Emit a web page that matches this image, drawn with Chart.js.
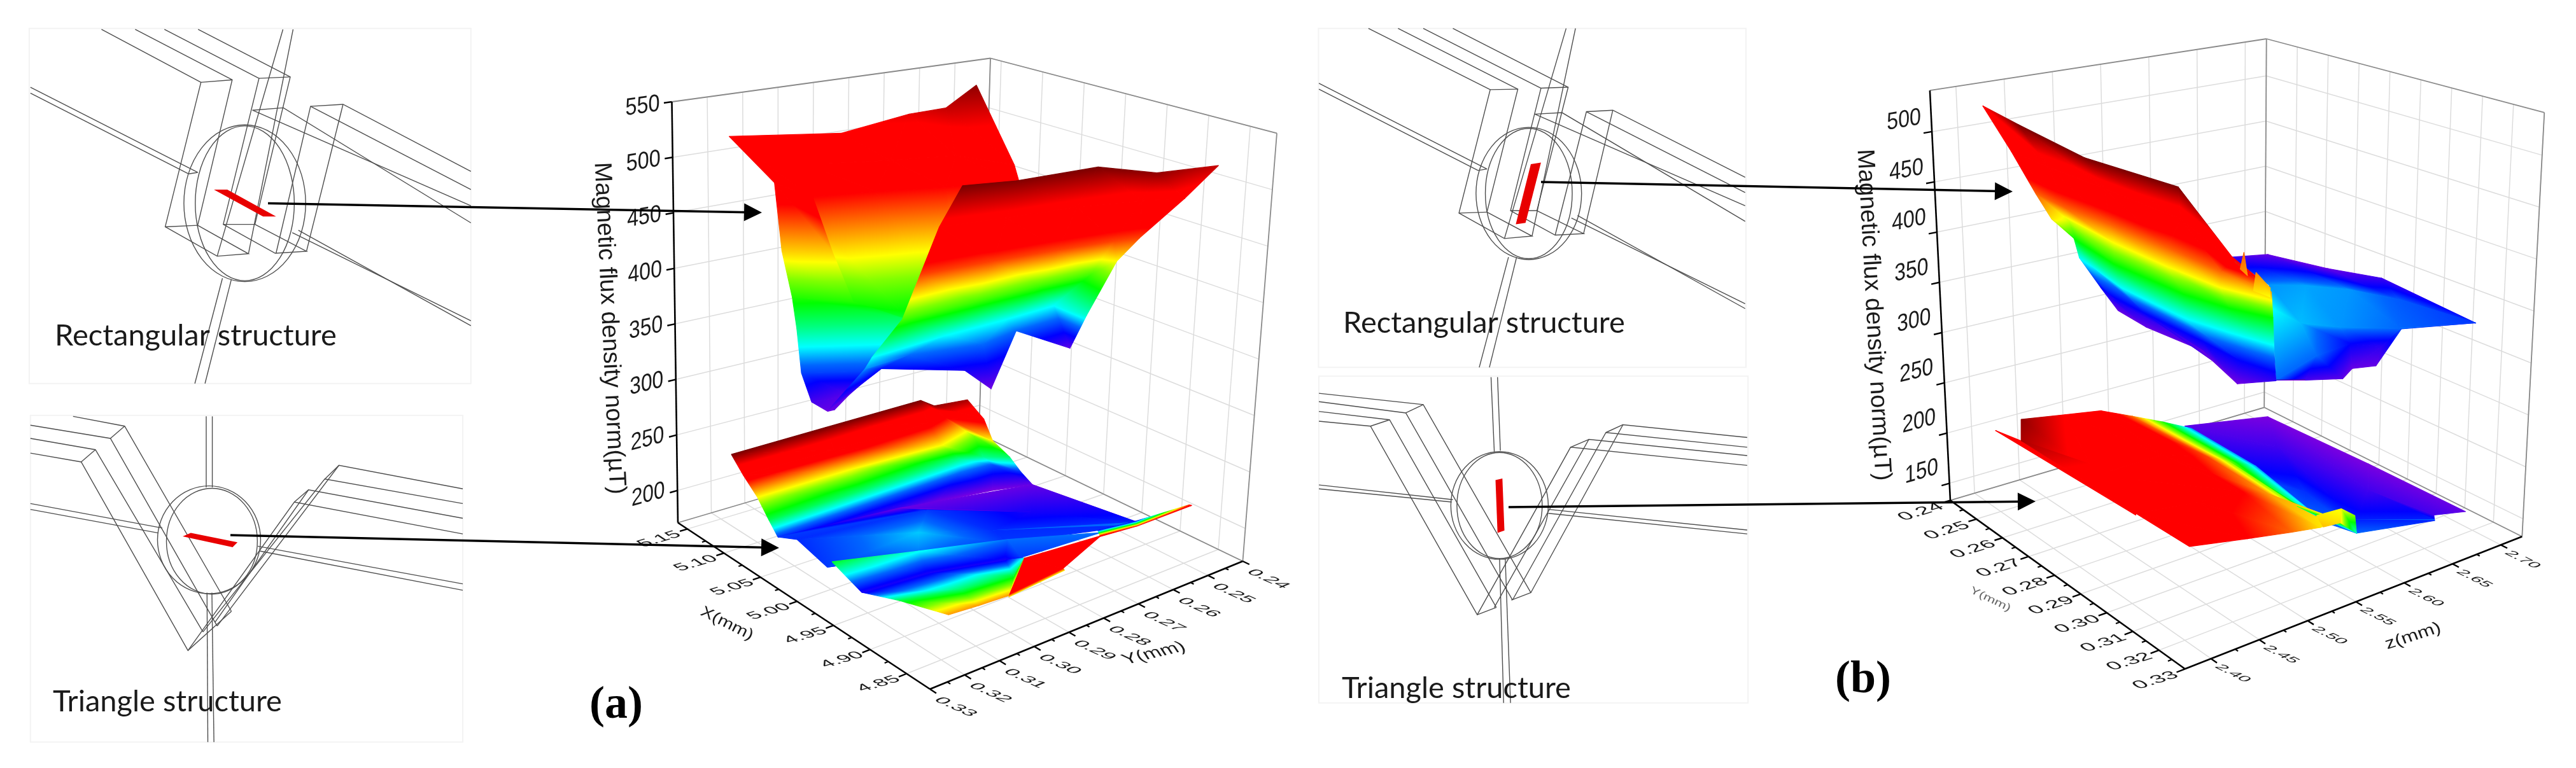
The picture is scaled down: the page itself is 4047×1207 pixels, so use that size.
<!DOCTYPE html>
<html lang="en">
<head>
<meta charset="UTF-8" />
<title>Magnetic flux density</title>
<script src="https://cdn.jsdelivr.net/npm/chart.js"></script>
<style>
  body { margin: 0; background: #fff; }
  canvas { display: block; }
</style>
</head>
<body>
<canvas id="fig" width="4047" height="1207"></canvas>
<script>
// axis ticks
const xTicksA = [5.15, 5.10, 5.05, 5.00, 4.95, 4.90, 4.85];
const xMinorA = [5.125, 5.075, 5.025, 4.975, 4.925, 4.875];
const yTicksA = [0.33, 0.32, 0.31, 0.30, 0.29, 0.28, 0.27, 0.26, 0.25, 0.24];
const yMinorA = [0.325, 0.315, 0.305, 0.295, 0.285, 0.275, 0.265, 0.255, 0.245];
const bTicksA = [200, 250, 300, 350, 400, 450, 500, 550];
const yTicksB = [0.24, 0.25, 0.26, 0.27, 0.28, 0.29, 0.30, 0.31, 0.32, 0.33];
const yMinorB = [0.245, 0.255, 0.265, 0.275, 0.285, 0.295, 0.305, 0.315, 0.325];
const zTicksB = [2.40, 2.45, 2.50, 2.55, 2.60, 2.65, 2.70];
const zMinorB = [2.425, 2.475, 2.525, 2.575, 2.625, 2.675];
const bTicksB = [150, 200, 250, 300, 350, 400, 450, 500];

// panel (a), rectangular structure: X(mm), Y(mm), B(uT)
const aRectBackX = [[5.144,5.139,5.118,5.134],[5.121,5.097,5.080,5.045],[5.100,5.081,5.061,5.041],[5.050,4.998,4.985,4.991],[5.045,5.003,4.985,4.974]];
const aRectBackY = [[.2863,.2683,.2628,.2506],[.3014,.2830,.2684,.2599],[.3100,.2906,.2753,.2593],[.3143,.3019,.2915,.2835],[.3154,.2980,.2913,.2871]];
const aRectBackB = [[505,515,523,535],[490,490,490,485],[470,470,470,470],[400,395,395,395],[375,375,375,375]];

const aRectWallX = [[5.192,5.144],[5.105,5.042],[5.070,5.047],[5.060,5.025],[5.053,5.010],[5.058,5.028],[5.062,5.066],[5.058,5.054]];
const aRectWallY = [[.3074,.2863],[.3140,.3170],[.3196,.3104],[.3188,.3092],[.3190,.2971],[.3165,.3016],[.3126,.3011],[.3088,.3077]];
const aRectWallB = [[500,505],[485,490],[438,438],[400,400],[375,380],[333,333],[303,298],[293,295]];

const aRectFrontX = [[4.873,4.865,4.853,4.824,4.843],[4.892,4.880,4.871,4.861,4.844],[4.910,4.903,4.895,4.886,4.880],[4.958,4.958,4.958,4.955,4.913],[5.003,5.009,5.010,5.013,4.963],[5.012,5.026,5.011,5.020,5.043],[5.051,5.049,5.022,5.019,5.020]];
const aRectFrontY = [[.3129,.2999,.2804,.2708,.2496],[.3148,.2988,.2816,.2660,.2581],[.3158,.2972,.2809,.2674,.2617],[.3100,.2896,.2714,.2576,.2602],[.3084,.2858,.2684,.2544,.2564],[.3084,.2927,.2747,.2633,.2421],[.3101,.2954,.2773,.2702,.2633]];
const aRectFrontB = [[540,538,540,535,523],[503,503,503,500,500],[460,460,460,460,460],[405,405,405,405,430],[358,358,358,358,365],[345,340,340,340,298],[298,323,315,293,340]];

// panel (a), triangle structure
const aTriBackX = [[5.074,5.075,5.076,5.064,5.062],[5.076,5.074,5.077,5.083,5.057],[5.073,5.073,5.068,5.077,5.050],[5.065,5.069,5.074,5.066,5.049],[5.071,5.073,5.075,5.073,5.053],[5.074,5.074,5.072,5.063,5.048]];
const aTriBackY = [[.3333,.3057,.2777,.2764,.2672],[.3294,.3033,.2752,.2685,.2633],[.3259,.2993,.2730,.2614,.2621],[.3243,.2960,.2660,.2610,.2571],[.3203,.2922,.2655,.2564,.2527],[.3141,.2974,.2730,.2585,.2502]];
const aTriBackB = [[270,270,270,268,266],[248,248,246,243,246],[227,227,227,221,227],[209,207,205,205,207],[188,186,192,190,187],[182,174,173,172,174]];

const aTriFlatX = [[5.071,5.079,5.048,4.919],[5.060,5.039,4.993,4.915],[5.005,4.997,4.977,4.912],[5.003,4.973,4.950,4.908]];
const aTriFlatY = [[.3203,.2826,.2502,.2491],[.3170,.2832,.2632,.2499],[.3201,.2952,.2777,.2505],[.3191,.3004,.2796,.2514]];
const aTriFlatB = [[188,174,174,184],[187,188,182,186],[188,196,187,187],[190,192,188,187]];

const aTriFrontX = [[4.972,4.965,4.948,4.908],[4.963,4.957,4.936,4.921],[4.888,4.876,4.860,4.896],[4.802,4.799,4.797,4.863]];
const aTriFrontY = [[.3259,.3022,.2799,.2617],[.3190,.3011,.2831,.2818],[.3243,.3094,.2974,.2863],[.3287,.3207,.3126,.2938]];
const aTriFrontB = [[211,199,192,192],[182,182,182,188],[209,207,211,201],[233,233,233,221]];

const aTriCornerX = [[4.819,4.793],[4.781,4.789],[4.802,4.810]];
const aTriCornerY = [[.3037,.2878],[.3159,.2991],[.3115,.2940]];
const aTriCornerB = [[246,256],[243,243],[229,229]];

const aTriTipX = [[4.921,4.914,4.817],[4.803,4.814,4.799]];
const aTriTipY = [[.2595,.2502,.2572],[.2857,.2725,.2607]];
const aTriTipB = [[187,187,241],[250,241,250]];

// panel (b), rectangular structure: Y(mm), z(mm), B(uT)
const bRectFlatY = [[.2160,.2140,.2291,.2463,.2926],[.2563,.2623,.2692,.2766,.2939],[.2752,.2818,.2867,.2927,.2952],[.3001,.2942,.2826,.2828,.2901],[.2870,.2844,.2861,.2818,.2838]];
const bRectFlatZ = [[2.763,2.810,2.826,2.828,2.780],[2.675,2.695,2.720,2.749,2.775],[2.620,2.630,2.657,2.701,2.771],[2.551,2.610,2.680,2.712,2.710],[2.590,2.628,2.662,2.685,2.704]];
const bRectFlatB = [[257,246,246,257,279],[302,304,302,293,282],[316,307,302,296,285],[296,296,274,262,290],[268,254,248,246,246]];

const bRectSlopeY = [[.2204,.2575,.2851,.3137,.3347,.3285],[.2419,.2557,.2743,.2973,.3271,.3312],[.2433,.2543,.2685,.2881,.3072,.3183],[.2462,.2438,.2637,.2824,.3000,.3122],[.2361,.2376,.2542,.2782,.2908,.3011],[.2272,.2305,.2460,.2689,.2812,.2920],[.2240,.2288,.2418,.2623,.2756,.2858],[.2249,.2362,.2540,.2595,.2722,.2844]];
const bRectSlopeZ = [[2.484,2.413,2.401,2.414,2.409,2.463],[2.449,2.448,2.451,2.462,2.432,2.451],[2.469,2.467,2.472,2.474,2.474,2.493],[2.476,2.502,2.490,2.490,2.494,2.511],[2.529,2.527,2.517,2.520,2.530,2.544],[2.561,2.559,2.548,2.552,2.562,2.572],[2.593,2.592,2.586,2.586,2.584,2.592],[2.609,2.605,2.611,2.604,2.593,2.597]];
const bRectSlopeB = [[486,520,520,520,481,436],[470,470,470,464,464,442],[425,425,425,425,425,414],[402,391,397,397,397,394],[358,358,358,358,358,358],[318,318,316,310,310,310],[274,268,274,274,274,274],[246,246,246,246,243,262]];

const bRectSpikeOneY = [[.3002,.3002],[.3052,.3067]];
const bRectSpikeOneZ = [[2.517,2.517],[2.499,2.502]];
const bRectSpikeOneB = [[425,425],[419,414]];
const bRectSpikeTwoY = [[.3090,.3125],[.3085,.3112]];
const bRectSpikeTwoZ = [[2.504,2.508],[2.503,2.512]];
const bRectSpikeTwoB = [[419,408],[402,397]];

// panel (b), triangle structure
const bTriBackY = [[.2399,.2453,.2788,.3132],[.2451,.2615,.2915,.3111],[.2717,.2870,.3050,.3162],[.2754,.2982,.3123,.3166]];
const bTriBackZ = [[2.634,2.709,2.714,2.713],[2.623,2.670,2.675,2.686],[2.591,2.621,2.622,2.671],[2.580,2.588,2.601,2.670]];
const bTriBackB = [[138,135,135,137],[140,140,140,140],[153,149,148,148],[158,153,153,148]];

const bTriEdgeY = [[.2456,.2528],[.2964,.2958]];
const bTriEdgeZ = [[2.410,2.417],[2.415,2.417]];
const bTriEdgeB = [[203,203],[203,203]];

const bTriFrontY = [[.2524,.2517,.2513,.2519,.2503,.2485],[.2604,.2783,.2772,.2793,.2774,.2725],[.2958,.2993,.2999,.3006,.3044,.3023],[.3151,.3190,.3200,.3191,.3184,.3141]];
const bTriFrontZ = [[2.419,2.468,2.508,2.540,2.578,2.615],[2.396,2.424,2.498,2.540,2.569,2.612],[2.417,2.473,2.517,2.543,2.561,2.588],[2.419,2.468,2.511,2.543,2.566,2.595]];
const bTriFrontB = [[223,214,207,194,175,155],[221,209,207,196,180,155],[203,203,200,191,180,159],[202,200,194,187,185,158]];

const bTriStepY = [[.3139,.3138,.3163],[.3202,.3201,.3160]];
const bTriStepZ = [[2.554,2.580,2.587],[2.543,2.561,2.590]];
const bTriStepB = [[187,185,180],[189,187,162]];

// colour limits of each surface
const rangeRectA = [290, 540], rangeTriA = [172, 270], rangeRectB = [240, 520], rangeTriB = [135, 225];

// box corners on the page, bottom and top ring (left, front, right, back)
const panelA = {
  a: [5.163, 4.818], b: [0.33, 0.24], c: [171, 550],
  A: [1065, 821.5], Bf: [1461, 1083], C: [1952.4, 882], D: [1538, 682],
  At: [1055.5, 160], Bt: [1482, 316.7], Ct: [2006, 209.4], Dt: [1556, 91.5]
};
const panelB = {
  a: [0.24, 0.33], b: [2.373, 2.722], c: [133, 541],
  A: [3064, 786.4], Bf: [3432.7, 1051.3], C: [3962.3, 843.2], D: [3557.2, 640.3],
  At: [3031.9, 142.2], Bt: [3426.8, 298], Ct: [3997.3, 176.9], Dt: [3560.7, 61]
};

const colourStops = [[0,'#7a00e0'],[.12,'#0000ff'],[.2,'#0066ff'],[.27,'#00ffff'],[.42,'#00ff00'],[.5,'#80ff00'],[.56,'#ffff00'],[.64,'#ff8000'],[.72,'#ff0000'],[.88,'#ff0000'],[1,'#7a0000']];

function project(p, a, b, c) {
  const u = (a-p.a[0])/(p.a[1]-p.a[0]), v = (b-p.b[0])/(p.b[1]-p.b[0]), w = (c-p.c[0])/(p.c[1]-p.c[0]);
  const bot = (i) => (1-u)*(1-v)*p.A[i] + u*(1-v)*p.Bf[i] + u*v*p.C[i] + (1-u)*v*p.D[i];
  const top = (i) => (1-u)*(1-v)*p.At[i] + u*(1-v)*p.Bt[i] + u*v*p.Ct[i] + (1-u)*v*p.Dt[i];
  return { x: bot(0)*(1-w) + top(0)*w, y: bot(1)*(1-w) + top(1)*w };
}

const canvas = document.getElementById('fig');
const g2d = canvas.getContext('2d');
const datasets = [];

function addLine(pts, color, width) {
  datasets.push({ data: pts, showLine: true, borderColor: color, borderWidth: width, pointRadius: 0, fill: false });
}
function colourAt(t) {
  for (let i = 1; i < colourStops.length; i++) if (t <= colourStops[i][0]) return colourStops[i][1];
  return colourStops[colourStops.length-1][1];
}
// a flat triangle has a linear colour ramp, so one linear gradient is exact
function triangleFill(p0, p1, p2, t0, t1, t2) {
  const d1x=p1.x-p0.x, d1y=p1.y-p0.y, d2x=p2.x-p0.x, d2y=p2.y-p0.y;
  const det = d1x*d2y-d2x*d1y;
  if (Math.abs(det) < 1e-6) return null;
  const gx = ((t1-t0)*d2y-(t2-t0)*d1y)/det, gy = ((t2-t0)*d1x-(t1-t0)*d2x)/det;
  const n = gx*gx+gy*gy;
  if (n < 1e-12) return colourAt(t0);
  const grad = g2d.createLinearGradient(p0.x-t0*gx/n, p0.y-t0*gy/n, p0.x+(1-t0)*gx/n, p0.y+(1-t0)*gy/n);
  colourStops.forEach(s => grad.addColorStop(s[0], s[1]));
  return grad;
}
function addSheet(p, A, B, C, range) {
  for (let i = 0; i+1 < A.length; i++) for (let j = 0; j+1 < A[i].length; j++) {
    const v = (r,s) => ({ pt: project(p,A[r][s],B[r][s],C[r][s]), t: (C[r][s]-range[0])/(range[1]-range[0]) });
    [[v(i,j),v(i,j+1),v(i+1,j+1)],[v(i,j),v(i+1,j+1),v(i+1,j)]].forEach(tri => {
      const f = triangleFill(tri[0].pt,tri[1].pt,tri[2].pt,tri[0].t,tri[1].t,tri[2].t);
      if (!f) return;
      datasets.push({ data:[tri[0].pt,tri[1].pt,tri[2].pt,tri[0].pt], showLine:true, fill:'shape', backgroundColor:f, borderColor:f, borderWidth:1.2, pointRadius:0, borderJoinStyle:'round' });
    });
  }
}
function addBox(p, aTicks, aMinor, bTicks, bMinor, cTicks) {
  const [a0,a1]=p.a,[b0,b1]=p.b,[c0,c1]=p.c, grid='#dcdcdc', frame='#8a8a8a';
  const seg=(q,r,col,w)=>addLine([project(p,...q),project(p,...r)],col,w);
  bTicks.forEach(b=>{ seg([a0,b,c0],[a0,b,c1],grid,1.5); seg([a0,b,c0],[a1,b,c0],grid,1.5); });
  aTicks.forEach(a=>{ seg([a,b1,c0],[a,b1,c1],grid,1.5); seg([a,b0,c0],[a,b1,c0],grid,1.5); });
  cTicks.forEach(c=>{ seg([a0,b0,c],[a0,b1,c],grid,1.5); seg([a0,b1,c],[a1,b1,c],grid,1.5); });
  seg([a0,b0,c1],[a0,b1,c1],frame,1.8); seg([a0,b1,c1],[a1,b1,c1],frame,1.8);
  seg([a0,b1,c0],[a0,b1,c1],frame,1.8); seg([a1,b1,c0],[a1,b1,c1],frame,1.8);
  seg([a0,b0,c0],[a0,b1,c0],frame,1.8); seg([a0,b1,c0],[a1,b1,c0],frame,1.8);
  const tickB=b0-.025*(b1-b0), tickA=a1+.025*(a1-a0), halfB=b0-.012*(b1-b0), halfA=a1+.012*(a1-a0);
  aTicks.forEach(a=>seg([a,b0,c0],[a,tickB,c0],'#000',2.4));
  aMinor.forEach(a=>seg([a,b0,c0],[a,halfB,c0],'#000',2.2));
  bTicks.forEach(b=>seg([a1,b,c0],[tickA,b,c0],'#000',2.4));
  bMinor.forEach(b=>seg([a1,b,c0],[halfA,b,c0],'#000',2.2));
  cTicks.forEach(c=>seg([a0,b0,c],[a0,tickB,c],'#000',2.4));
  seg([a0,b0,c0],[a0,b0,c1],'#000',2.6); seg([a0,b0,c0],[a1,b0,c0],'#000',2.6); seg([a1,b0,c0],[a1,b1,c0],'#000',2.6);
}

addBox(panelA, xTicksA, xMinorA, yTicksA, yMinorA, bTicksA);
addBox(panelB, yTicksB, yMinorB, zTicksB, zMinorB, bTicksB);

// back to front
addSheet(panelA, aRectBackX, aRectBackY, aRectBackB, rangeRectA);
addSheet(panelA, aRectWallX, aRectWallY, aRectWallB, rangeRectA);
addSheet(panelA, aRectFrontX, aRectFrontY, aRectFrontB, rangeRectA);
addSheet(panelA, aTriBackX, aTriBackY, aTriBackB, rangeTriA);
addSheet(panelA, aTriFlatX, aTriFlatY, aTriFlatB, rangeTriA);
addSheet(panelA, aTriFrontX, aTriFrontY, aTriFrontB, rangeTriA);
addSheet(panelA, aTriCornerX, aTriCornerY, aTriCornerB, rangeTriA);
addSheet(panelA, aTriTipX, aTriTipY, aTriTipB, rangeTriA);
addSheet(panelB, bRectFlatY, bRectFlatZ, bRectFlatB, rangeRectB);
addSheet(panelB, bRectSlopeY, bRectSlopeZ, bRectSlopeB, rangeRectB);
addSheet(panelB, bRectSpikeOneY, bRectSpikeOneZ, bRectSpikeOneB, rangeRectB);
addSheet(panelB, bRectSpikeTwoY, bRectSpikeTwoZ, bRectSpikeTwoB, rangeRectB);
addSheet(panelB, bTriBackY, bTriBackZ, bTriBackB, rangeTriB);
addSheet(panelB, bTriEdgeY, bTriEdgeZ, bTriEdgeB, rangeTriB);
addSheet(panelB, bTriFrontY, bTriFrontZ, bTriFrontB, rangeTriB);
addSheet(panelB, bTriStepY, bTriStepZ, bTriStepB, rangeTriB);

// wireframe insets, drawn in their own units
const leftOrigin = { ox: 0, oy: 0 }, rightOrigin = { ox: 2000, oy: 0 };
const sketches = [
  { o: leftOrigin, frame: [72,58,1160,783], red: [[527,387],[560,387],[680,442],[648,442]],
    ell: [[603,415,150,160],[603,415,122,158]],
    lines: [
      [[250,60],[495,168],[407,463],[535,523],[612,518],[487,460],[572,163],[333,60]],[[495,168],[572,163]],[[407,463],[487,460]],
      [[405,60],[638,160],[550,458],[678,517],[755,513],[628,458],[715,157],[488,60]],[[638,160],[715,157]],[[550,458],[628,458]],
      [[697,60],[535,523]],[[722,60],[612,518]],[[548,568],[480,783]],[[570,570],[505,783]],
      [[1160,350],[845,213],[765,217],[680,517]],[[845,213],[755,513]],[[765,217],[1160,387]],[[622,225],[698,220],[1160,455]],[[622,225],[1160,420]],
      [[75,178],[487,352]],[[75,190],[465,355]],[[465,355],[487,352]],[[720,475],[1160,655]],[[735,470],[1160,665]] ] },
  { o: leftOrigin, frame: [75,848,1140,1515], red: [[450,1095],[470,1088],[585,1107],[573,1117]],
    ell: [[515,1102,127,110],[522,1105,112,108]],
    lines: [
      [[180,850],[307,870],[570,1248]],[[75,868],[272,895],[535,1278]],[[75,895],[235,918],[500,1290]],[[75,925],[200,943],[463,1328],[570,1248]],[[307,870],[272,895]],[[235,918],[200,943]],
      [[1140,998],[835,950],[535,1278]],[[1140,1028],[800,978],[500,1290]],[[835,950],[800,978]],[[1140,1058],[760,1000],[530,1270]],[[1140,1090],[725,1025],[463,1328]],[[760,1000],[725,1025]],
      [[508,850],[508,995]],[[523,850],[523,995]],[[510,1210],[512,1515]],[[522,1210],[527,1515]],
      [[75,1028],[400,1078]],[[75,1040],[390,1088]],[[635,1115],[1140,1192]],[[640,1125],[1140,1205]] ] },
  { o: rightOrigin, frame: [112,58,1165,750], red: [[635,335],[660,332],[622,455],[598,458]],
    ell: [[630,395,130,135],[630,395,107,133]],
    lines: [
      [[235,58],[535,183],[458,435],[570,487],[638,482],[527,433],[603,182],[308,58]],[[535,183],[603,182]],[[458,435],[527,433]],
      [[370,58],[660,180],[585,430],[695,480],[765,477],[650,430],[727,178],[443,58]],[[660,180],[727,178]],[[585,430],[650,430]],
      [[722,58],[570,487]],[[745,58],[638,482]],[[580,525],[508,750]],[[600,525],[533,750]],
      [[1163,362],[837,225],[772,228],[695,480]],[[837,225],[765,477]],[[772,228],[1163,393]],[[645,233],[712,230],[1163,452]],[[645,233],[1163,420]],
      [[113,170],[527,345]],[[113,182],[505,348]],[[505,348],[527,345]],[[735,445],[1163,620]],[[750,440],[1163,630]] ] },
  { o: rightOrigin, frame: [113,768,1170,1435], red: [[548,980],[565,977],[570,1083],[553,1088]],
    ell: [[558,1032,120,110],[558,1032,105,108]],
    lines: [
      [[113,803],[370,826],[635,1210],[587,1225]],[[113,820],[327,843],[590,1225]],[[113,840],[287,857],[550,1240]],[[113,860],[240,870],[503,1255],[550,1240]],[[370,826],[327,843]],[[287,857],[240,870]],
      [[1168,893],[862,867],[635,1210]],[[1168,913],[820,883],[590,1225]],[[862,867],[820,883]],[[1168,930],[778,897],[545,1240]],[[1168,950],[733,913],[503,1255]],[[778,897],[733,913]],
      [[537,770],[545,922]],[[553,770],[560,920]],[[558,1140],[568,1435]],[[572,1140],[585,1435]],
      [[113,990],[443,1020]],[[113,998],[440,1025]],[[680,1040],[1168,1082]],[[678,1048],[1168,1090]] ] }
];
const arrows = [[421,319.5,1197,334],[362,841,1224,861],[2421,286,3162,301],[2370,797,3198,788]];
const kx = 1/1.568, ky = 1/1.299;

function drawSketches(c) {
  sketches.forEach(s => {
    const X = x => s.o.ox + x*kx, Y = y => s.o.oy + y*ky;
    c.strokeStyle = '#f3f3f3'; c.lineWidth = 2;
    c.strokeRect(X(s.frame[0]),Y(s.frame[1]),X(s.frame[2])-X(s.frame[0]),Y(s.frame[3])-Y(s.frame[1]));
    c.strokeStyle = '#4d4d4d'; c.lineWidth = 1.4;
    s.lines.forEach(l => { c.beginPath(); l.forEach((q,i)=> i ? c.lineTo(X(q[0]),Y(q[1])) : c.moveTo(X(q[0]),Y(q[1]))); c.stroke(); });
    s.ell.forEach(e => { c.beginPath(); c.ellipse(X(e[0]),Y(e[1]),e[2]*kx,e[3]*ky,0,0,Math.PI*2); c.stroke(); });
    c.fillStyle = '#e80000'; c.beginPath(); s.red.forEach((q,i)=> i ? c.lineTo(X(q[0]),Y(q[1])) : c.moveTo(X(q[0]),Y(q[1]))); c.closePath(); c.fill();
  });
}
function drawArrows(c) {
  arrows.forEach(a => {
    const ang = Math.atan2(a[3]-a[1],a[2]-a[0]);
    c.strokeStyle='#000'; c.lineWidth=3.5; c.beginPath(); c.moveTo(a[0],a[1]); c.lineTo(a[2]-20*Math.cos(ang),a[3]-20*Math.sin(ang)); c.stroke();
    c.save(); c.translate(a[2],a[3]); c.rotate(ang); c.fillStyle='#000'; c.beginPath(); c.moveTo(0,0); c.lineTo(-28,-14); c.lineTo(-28,14); c.closePath(); c.fill(); c.restore();
  });
}
function norm(a,b){ const n=Math.hypot(a.x-b.x,a.y-b.y); return [(a.x-b.x)/n,(a.y-b.y)/n]; }
function slant(c, text, x, y, e1, e2, font, sx, sy, color) {
  c.save(); c.transform(e1[0]*sx,e1[1]*sx,e2[0]*sy,e2[1]*sy,x,y);
  c.font=font; c.fillStyle=color||'#1a1a1a'; c.textAlign='center'; c.textBaseline='middle'; c.fillText(text,0,0); c.restore();
}
function drawAxisText(c, p, aT, bT, cT, st) {
  const [a0,a1]=p.a,[b0,b1]=p.b;
  const alongB = norm(project(p,a1,b1,p.c[0]),project(p,a1,b0,p.c[0])), alongA = norm(project(p,a1,b0,p.c[0]),project(p,a0,b0,p.c[0]));
  aT.forEach(v=>{ const q=project(p,v,b0,p.c[0]); slant(c,v.toFixed(2),q.x+st.offA[0],q.y+st.offA[1],st.aDir,alongA,st.aSize+'px "Liberation Sans"',1,.72); });
  bT.forEach(v=>{ const q=project(p,a1,v,p.c[0]); slant(c,v.toFixed(2),q.x+st.offB[0],q.y+st.offB[1],st.bDir,[-alongB[0],-alongB[1]],st.bSize+'px "Liberation Sans"',1,.72); });
  cT.forEach(v=>{ const q=project(p,a0,b0,v); const e=norm(project(p,a0,b1,v),q);
    slant(c,String(v),q.x+st.offC[0],q.y+st.offC[1],e,[0,1],'38px "Liberation Sans"',.86,1); });
}

const inkPlugin = {
  id: 'ink',
  beforeDatasetsDraw(chart) { drawSketches(chart.ctx); },
  afterDatasetsDraw(chart) {
    const c = chart.ctx;
    drawAxisText(c,panelA,xTicksA,yTicksA,bTicksA,{aDir:[.96,-.28],bDir:[.91,.41],aSize:33,bSize:33,offA:[-44,16],offB:[40,28],offC:[-46,7]});
    drawAxisText(c,panelB,yTicksB,zTicksB,bTicksB,{aDir:[.956,-.292],bDir:[.894,.447],aSize:35,bSize:28,offA:[-46,18],offB:[34,23],offC:[-44,-18]});
    const title='Magnetic flux density norm(\u00b5T)', titleFont='38px "Liberation Sans"';
    slant(c,title,957,516,[.046,.999],[-.999,.046],titleFont,1,1);
    slant(c,title,2943,495,[.054,.998],[-.998,.054],titleFont,1,1);
    slant(c,'X(mm)',1142,980,[.89,.45],[-.45,.89],'30px "Liberation Sans"',1,.8);
    slant(c,'Y(mm)',1813,1027,[.97,-.23],[.55,.83],'33px "Liberation Sans"',1,.8);
    slant(c,'Y(mm)',3127,942,[.9,.44],[-.44,.9],'23px "Liberation Sans"',1,.7,'#666');
    slant(c,'z(mm)',3791,1000,[.95,-.31],[.36,.93],'32px "Liberation Sans"',1,.8);
    drawArrows(c);
    c.fillStyle='#1a1a1a'; c.textAlign='left'; c.textBaseline='alphabetic';
    c.font='47px Lato';
    c.fillText('Rectangular structure',86,543);
    c.fillText('Triangle structure',83,1118);
    c.fillText('Rectangular structure',2110,523);
    c.fillText('Triangle structure',2108,1097);
    c.fillStyle='#000'; c.font='bold 72px "Liberation Serif"';
    c.fillText('(a)',926,1128);
    c.fillText('(b)',2883,1088);
  }
};

new Chart(canvas, {
  type: 'scatter',
  data: { datasets: datasets.reverse() },
  options: {
    responsive: false, animation: false, events: [],
    layout: { padding: 0 },
    plugins: { legend: { display: false }, tooltip: { enabled: false } },
    scales: {
      x: { type: 'linear', min: 0, max: 4047, display: false },
      y: { type: 'linear', min: 0, max: 1207, reverse: true, display: false }
    }
  },
  plugins: [inkPlugin]
});
</script>
</body>
</html>
